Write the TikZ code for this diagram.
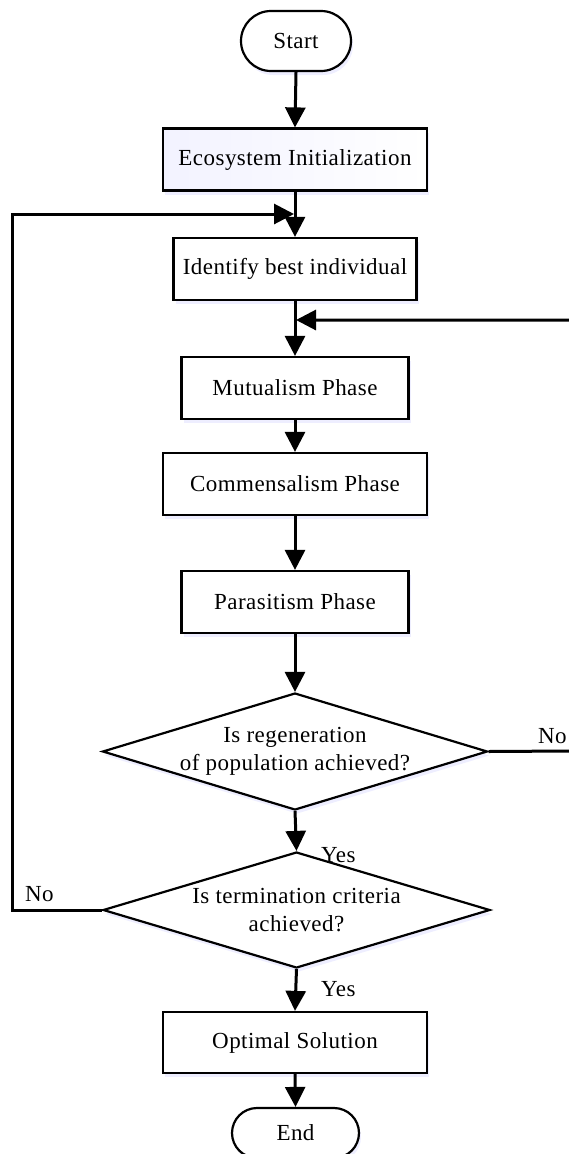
\documentclass[tikz,border=0pt]{standalone}
\usepackage{fontspec}
\setmainfont[LetterSpace=2]{Liberation Serif}
\usetikzlibrary{arrows.meta,shapes.geometric,shadows}
\begin{document}
\begin{tikzpicture}[x=1pt,y=-1pt,
  txt/.style={font=\fontsize{23}{28.5}\selectfont},
  shd/.style={drop shadow={shadow xshift=2pt,shadow yshift=-4pt,fill=blue!30,opacity=0.22}},
  procbox/.style={draw=black,line width=2.2pt,rectangle,fill=white,shd,txt,inner sep=0pt},
  termbox/.style={draw=black,line width=2.2pt,rectangle,rounded corners=28pt,fill=white,shd,txt,inner sep=0pt},
  decbox/.style={draw=black,line width=2.2pt,diamond,fill=white,shd,inner sep=0pt},
  conn/.style={line width=3pt,-{Triangle[length=20pt,width=20pt]}},
  lbl/.style={txt,inner sep=0pt}
]
\useasboundingbox (0,0) rectangle (568,1154);

\node[termbox,minimum width=110pt,minimum height=60pt,rounded corners=30pt] (start) at (296,41) {Start};
\node[procbox,minimum width=264pt,minimum height=62pt,left color=blue!5,right color=white] (eco) at (295,159.5) {Ecosystem Initialization};
\node[procbox,minimum width=243pt,minimum height=62pt] (ident) at (295,269) {Identify best individual};
\node[procbox,minimum width=227pt,minimum height=62pt] (mut) at (295,388) {Mutualism Phase};
\node[procbox,minimum width=264pt,minimum height=62pt] (com) at (295,484) {Commensalism Phase};
\node[procbox,minimum width=227pt,minimum height=62pt] (par) at (295,602) {Parasitism Phase};
\node[decbox,minimum width=385pt,minimum height=117pt,
  label={[lbl,align=center]center:Is regeneration\\of population achieved?}] (d1) at (295,751.5) {};
\node[decbox,minimum width=387pt,minimum height=116pt,
  label={[lbl,align=center]center:Is termination criteria\\achieved?}] (d2) at (296.5,910) {};
\node[procbox,minimum width=264pt,minimum height=61pt] (opt) at (295,1042.5) {Optimal Solution};
\node[termbox,minimum width=127pt,minimum height=50pt,rounded corners=25pt] (stop) at (295.5,1133) {End};

\coordinate (mergeTop) at (294,214);
\coordinate (mergeMid) at (296,320);
\coordinate (leftBottom) at (12,910);
\coordinate (leftTop) at (12,214);
\coordinate (rightBottom) at (572,751);
\coordinate (rightTop) at (572,320);

\draw[conn] (start.south) -- (eco.north);
\draw[conn] (eco.south) -- (ident.north);
\draw[conn] (ident.south) -- (mut.north);
\draw[conn] (mut.south) -- (com.north);
\draw[conn] (com.south) -- (par.north);
\draw[conn] (par.south) -- (d1.north);
\draw[conn] (d1.south) -- (d2.north);
\draw[conn] (d2.south) -- (opt.north);
\draw[conn] (opt.south) -- (stop.north);

\draw[conn] (d2.west) -- (leftBottom) -- (leftTop) -- (mergeTop);
\draw[conn] (d1.east) -- (rightBottom) -- (rightTop) -- (mergeMid);

\node[lbl,anchor=west] (yes1) at (321,855) {Yes};
\node[lbl,anchor=west] (yes2) at (321,989) {Yes};
\node[lbl,anchor=west] (no1) at (538,736) {No};
\node[lbl,anchor=west] (no2) at (25,894) {No};
\end{tikzpicture}
\end{document}
